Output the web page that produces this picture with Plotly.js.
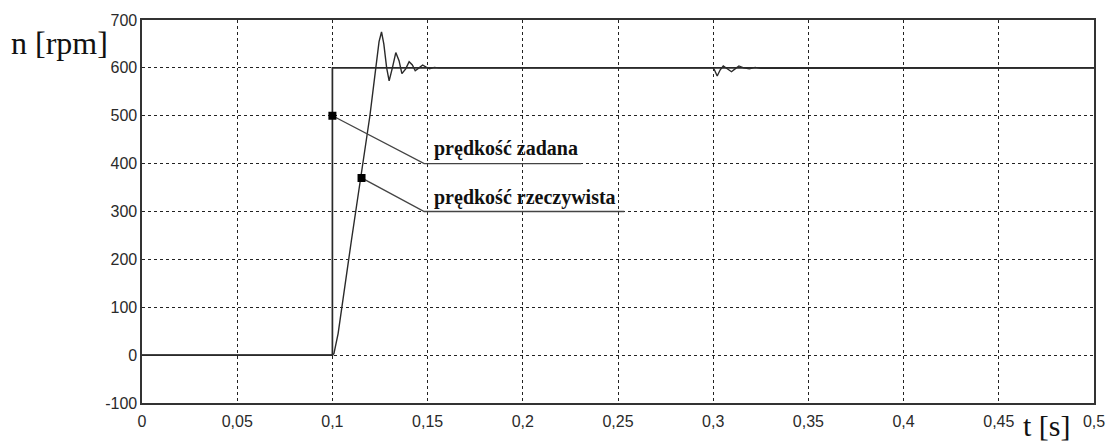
<!DOCTYPE html>
<html>
<head>
<meta charset="utf-8">
<script src="https://cdn.plot.ly/plotly-3.0.1.min.js"></script>
<style>html,body{margin:0;padding:0;background:#fff;}#chart{width:1111px;height:441px;}</style>
</head>
<body>
<div id="chart"></div>
<script>
// Reference (set) speed
const tRef = [0, 0.1, 0.1, 0.5];
const nRef = [0, 0, 600, 600];

// Actual speed
const tAct = [0, 0.1, 0.1008, 0.1015, 0.103, 0.11, 0.1154, 0.1197, 0.1228, 0.1245, 0.1258, 0.127, 0.1285, 0.1298, 0.1315, 0.1333, 0.135, 0.1365, 0.1385, 0.1403, 0.142, 0.1435, 0.1455, 0.1474, 0.149, 0.151, 0.1535, 0.156,
              0.3, 0.3005, 0.3021, 0.3037, 0.3053, 0.3075, 0.3096, 0.3115, 0.3135, 0.316, 0.319, 0.322, 0.325, 0.5];
const nAct = [0, 0, 3, 15, 45, 240, 380, 500, 600, 655, 675, 650, 600, 573, 600, 632, 615, 588, 598, 613, 606, 594, 600, 606, 602, 598, 601, 600,
              600, 597, 583, 596, 604, 598, 592, 598, 604, 600, 598, 601, 599, 600];

// Callout leader lines
const calloutSetT = [0.1, 0.1482, 0.2307];
const calloutSetN = [500, 400, 400];
const calloutActT = [0.1153, 0.1482, 0.2533];
const calloutActN = [370, 300, 300];
const calloutLabels = ["prędkość zadana", "prędkość rzeczywista"];
const calloutLabelT = [0.1524, 0.1524];
const calloutLabelN = [432, 330];

// Axes
const xTickVals = [0, 0.05, 0.1, 0.15, 0.2, 0.25, 0.3, 0.35, 0.4, 0.45, 0.5];
const xTickText = ["0", "0,05", "0,1", "0,15", "0,2", "0,25", "0,3", "0,35", "0,4", "0,45", "0,5"];
const yTickVals = [-100, 0, 100, 200, 300, 400, 500, 600, 700];
const yTickText = ["-100", "0", "100", "200", "300", "400", "500", "600", "700"];
const xLabel = "t [s]";
const yLabel = "n [rpm]";

const lineCol = "#2a2a2a";
const traces = [
  {x: tAct, y: nAct, mode: "lines", line: {color: lineCol, width: 1.4}, hoverinfo: "skip"},
  {x: tRef, y: nRef, mode: "lines", line: {color: lineCol, width: 1.7}, hoverinfo: "skip"},
  {x: calloutSetT, y: calloutSetN, mode: "lines", line: {color: "#444", width: 1.4}, hoverinfo: "skip"},
  {x: calloutActT, y: calloutActN, mode: "lines", line: {color: "#444", width: 1.4}, hoverinfo: "skip"},
  {x: [calloutSetT[0], calloutActT[0]], y: [calloutSetN[0], calloutActN[0]], mode: "markers",
   marker: {symbol: "square", size: 8, color: "#000"}, hoverinfo: "skip"}
];

const annotations = calloutLabels.map((s, i) => ({
  x: calloutLabelT[i], y: calloutLabelN[i], xref: "x", yref: "y",
  text: "<b>" + s + "</b>", showarrow: false, xanchor: "left", yanchor: "middle",
  font: {family: "Liberation Serif", size: 20, color: "#111"}
}));
annotations.push({x: -0.14, y: 0.94, xref: "paper", yref: "paper", text: yLabel, showarrow: false,
  xanchor: "left", yanchor: "middle", font: {family: "Liberation Serif", size: 32, color: "#111"}});
annotations.push({x: 0.9506, y: -0.058, xref: "paper", yref: "paper", text: xLabel, showarrow: false,
  xanchor: "center", yanchor: "middle", font: {family: "Liberation Serif", size: 30, color: "#111"}});

const tickFont = {family: "Liberation Sans", size: 16, color: "#2a2a2a"};
const layout = {
  width: 1111, height: 441,
  margin: {l: 142, r: 17, t: 20, b: 38, pad: 0},
  paper_bgcolor: "#fff", plot_bgcolor: "#fff",
  showlegend: false,
  xaxis: {range: [0, 0.5], tickvals: xTickVals, ticktext: xTickText, showgrid: true,
    gridcolor: "#222", gridwidth: 1, griddash: "3px,3px", zeroline: false,
    showline: true, mirror: true, linecolor: "#333", linewidth: 1.6, ticks: "",
    ticklabelstandoff: 3, tickfont: tickFont},
  yaxis: {range: [-100, 700], tickvals: yTickVals, ticktext: yTickText, showgrid: true,
    gridcolor: "#222", gridwidth: 1, griddash: "3px,3px", zeroline: false,
    showline: true, mirror: true, linecolor: "#333", linewidth: 1.6, ticks: "",
    tickfont: tickFont},
  annotations: annotations
};

Plotly.newPlot("chart", traces, layout, {staticPlot: true, displayModeBar: false});
</script>
</body>
</html>
